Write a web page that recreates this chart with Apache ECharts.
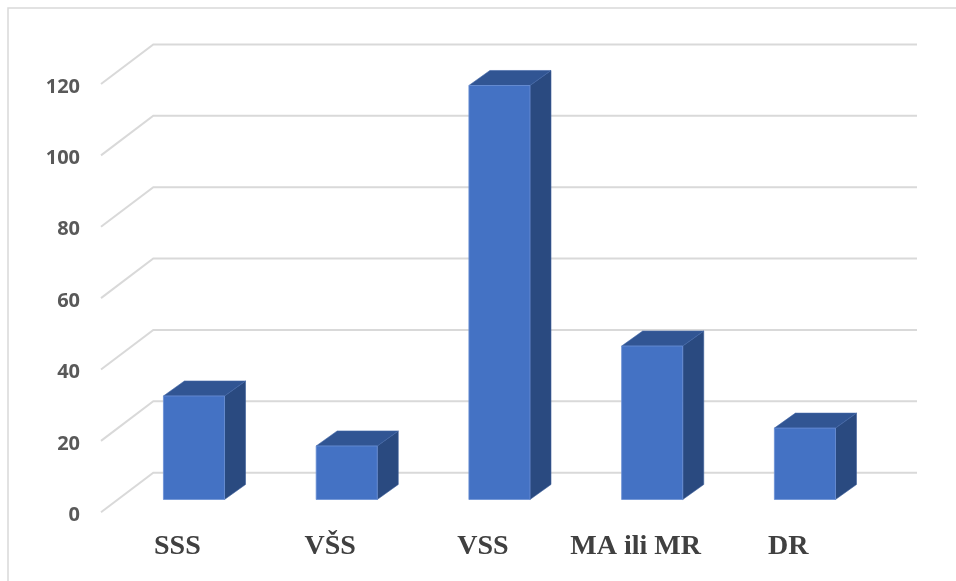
<!DOCTYPE html>
<html>
<head>
<meta charset="utf-8">
<script src="https://cdn.jsdelivr.net/npm/echarts@6/dist/echarts.min.js"></script>
<style>
  html, body { margin: 0; padding: 0; background: #ffffff; }
  #chart { width: 956px; height: 581px; }
</style>
</head>
<body>
<div id="chart"></div>
<script>
// Education level categories and counts
const categories = ['SSS', 'VŠS', 'VSS', 'MA ili MR', 'DR'];
const counts = [29, 15, 116, 43, 20];
// Value-axis ticks (back-wall gridlines)
const yTicks = [0, 20, 40, 60, 80, 100, 120];

// Oblique projection: floor depth vector, bar placement depth and bar thickness
const FLOOR = [52.3, 39.6];
const BAR_OFFSET = [16.6, 12.8];
const BAR_DEPTH = [21, 15];
const BAR_WIDTH_RATIO = 0.4;

const chart = echarts.init(document.getElementById('chart'), null, { renderer: 'canvas' });

function renderGrid(params, api) {
  const v = api.value(1);
  const band = api.size([1, 0])[0];
  const first = api.coord([0, v]);
  const last = api.coord([categories.length - 1, v]);
  const xl = first[0] - band / 2;
  const xr = last[0] + band / 2;
  const y = first[1];
  return {
    type: 'polyline',
    shape: {
      points: [
        [xl, y],
        [xl + FLOOR[0], y - FLOOR[1]],
        [xr + FLOOR[0], y - FLOOR[1]]
      ]
    },
    style: { stroke: '#d9d9d9', lineWidth: 2, fill: null }
  };
}

function renderBar(params, api) {
  const idx = api.value(0);
  const top = api.coord([idx, api.value(1)]);
  const base = api.coord([idx, 0]);
  const band = api.size([1, 0])[0];
  const w = band * BAR_WIDTH_RATIO;
  const x0 = top[0] - w / 2 + BAR_OFFSET[0];
  const x1 = x0 + w;
  const yt = top[1] - BAR_OFFSET[1];
  const yb = base[1] - BAR_OFFSET[1];
  const dx = BAR_DEPTH[0], dy = BAR_DEPTH[1];
  return {
    type: 'group',
    children: [
      {
        type: 'polygon',
        shape: { points: [[x1, yt], [x1 + dx, yt - dy], [x1 + dx, yb - dy], [x1, yb]] },
        style: { fill: '#2a4a80', stroke: '#3a5c98', lineWidth: 0.6 }
      },
      {
        type: 'polygon',
        shape: { points: [[x0, yt], [x0 + dx, yt - dy], [x1 + dx, yt - dy], [x1, yt]] },
        style: { fill: '#315593', stroke: '#4266a8', lineWidth: 0.6 }
      },
      {
        type: 'rect',
        shape: { x: x0, y: yt, width: w, height: yb - yt },
        style: { fill: '#4472c4', stroke: '#6a8fd4', lineWidth: 0.8 }
      }
    ]
  };
}

chart.setOption({
  animation: false,
  backgroundColor: '#ffffff',
  graphic: [
    {
      type: 'rect',
      shape: { x: 8, y: 8, width: 1000, height: 700 },
      style: { fill: null, stroke: '#d9d9d9', lineWidth: 1.5 },
      silent: true,
      z: -10
    }
  ],
  grid: { left: 101, right: 91.3, top: 84, bottom: 68.7, containLabel: false },
  xAxis: {
    type: 'category',
    data: categories,
    boundaryGap: true,
    axisLine: { show: false },
    axisTick: { show: false },
    axisLabel: {
      interval: 0,
      hideOverlap: false,
      margin: 34,
      verticalAlign: 'middle',
      fontFamily: 'Liberation Serif',
      fontWeight: 'bold',
      fontSize: 28,
      color: '#404040'
    },
    splitLine: { show: false }
  },
  yAxis: {
    type: 'value',
    min: 0,
    max: 120,
    interval: 20,
    axisLine: { show: false },
    axisTick: { show: false },
    splitLine: { show: false },
    axisLabel: {
      margin: 21,
      verticalAlign: 'top',
      lineHeight: 20,
      fontFamily: 'Open Sans',
      fontWeight: 'bold',
      fontSize: 20,
      color: '#595959',
      padding: [-7, 0, 0, 0]
    }
  },
  series: [
    {
      type: 'custom',
      name: 'grid',
      renderItem: renderGrid,
      data: yTicks.map(v => [0, v]),
      silent: true,
      z: 1
    },
    {
      type: 'custom',
      name: 'count',
      renderItem: renderBar,
      data: counts.map((v, i) => [i, v]),
      z: 5
    }
  ]
});
</script>
</body>
</html>
